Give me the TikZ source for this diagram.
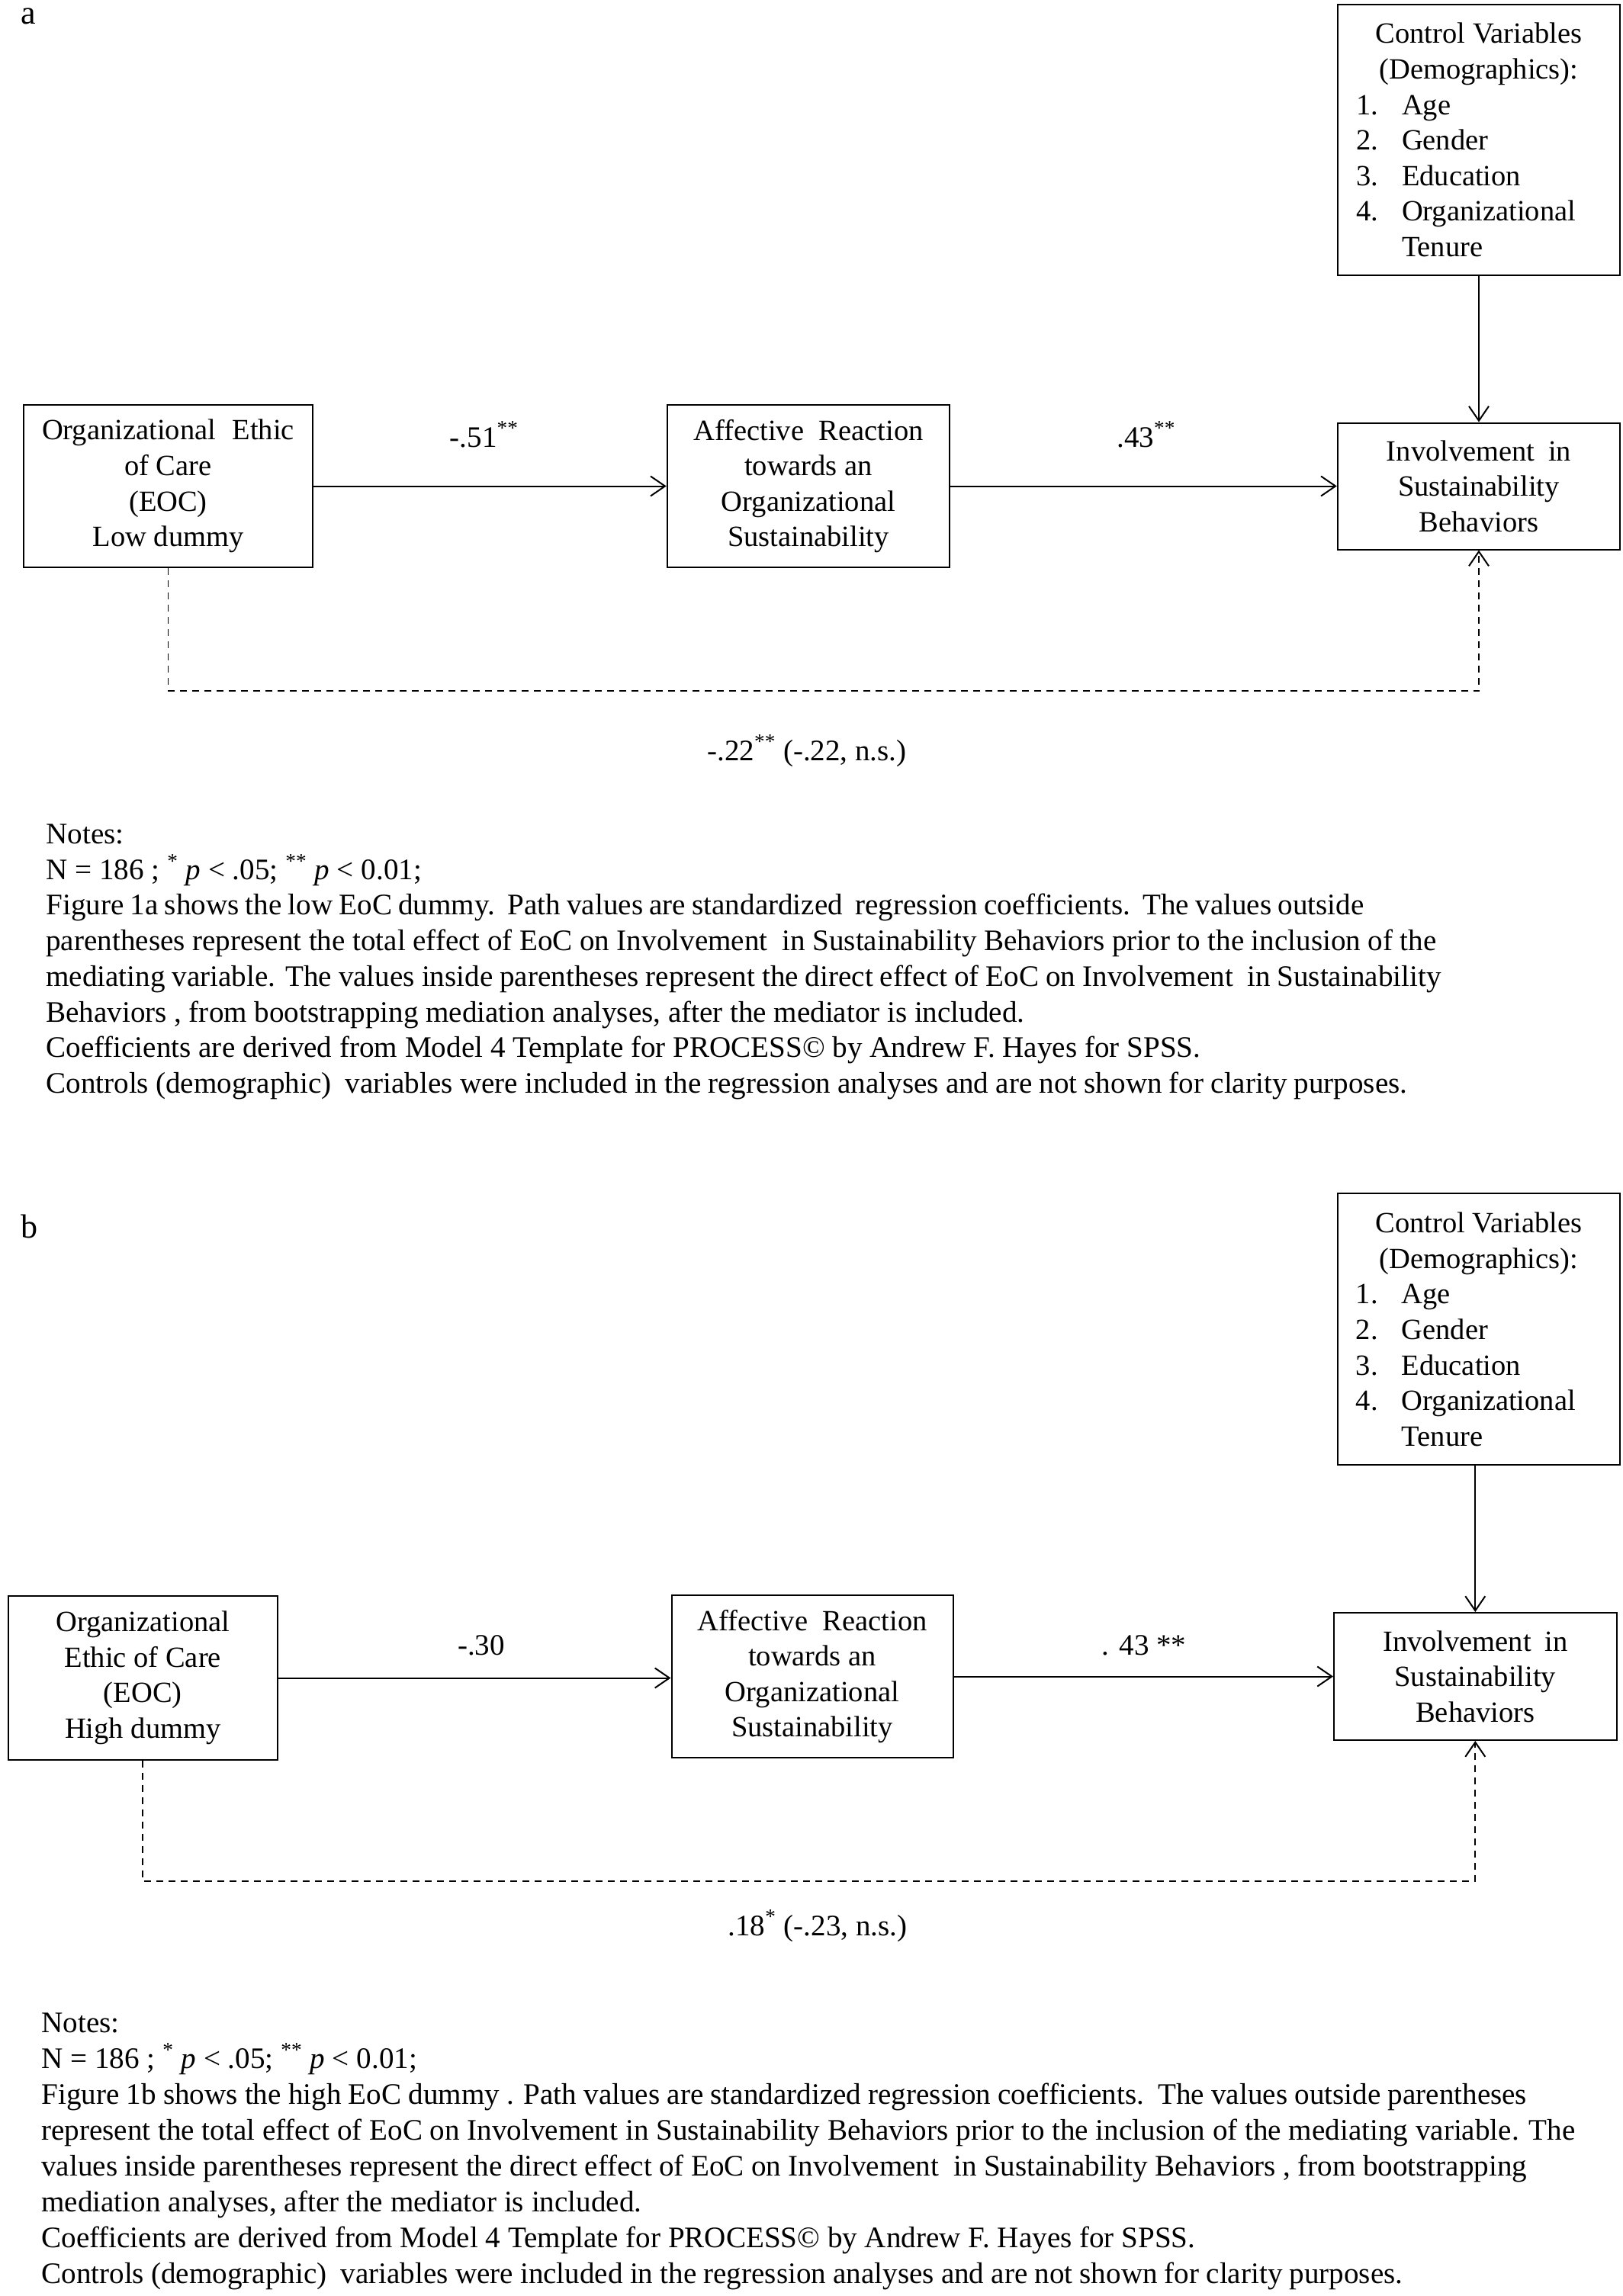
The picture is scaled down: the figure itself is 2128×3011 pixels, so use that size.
\documentclass[tikz,border=0pt]{standalone}
\usepackage{fontspec}
\setmainfont{Liberation Serif}
\usetikzlibrary{arrows.meta}
\newcommand{\fs}{\fontsize{19.25}{23.3}\selectfont}
\newcommand{\fn}{\fontsize{19.55}{23.4}\selectfont}
\newcommand{\itm}[2]{\makebox[161pt][l]{\makebox[30pt][l]{#1}#2}}
\newcommand{\nl}[2]{\spaceskip=.25em plus .4em minus .12em\hbox to #1{#2}}
\begin{document}
\begin{tikzpicture}[x=0.5pt,y=-0.5pt,
  box/.style={draw, line width=1pt, inner sep=0pt, align=center, font=\fs},
  tip/.style={-{Straight Barb[length=9.5pt,width=13pt,line width=1pt]}},
  arr/.style={line width=1pt, tip},
  darr/.style={line width=0.9pt, dash pattern=on 4.5pt off 3.5pt, tip},
  lbl/.style={inner sep=0pt, anchor=base, font=\fontsize{19.5}{23.3}\selectfont},
  note/.style={inner sep=0pt, anchor=base west, font=\fn},
  panel/.style={inner sep=0pt, anchor=base west, font=\fontsize{22}{26}\selectfont}]
\useasboundingbox (0,0) rectangle (2128,3011);

% ---------------- Panel a ----------------
\node[panel] (pa) at (27,31) {a};
\node[box, minimum width=185.2pt, minimum height=177.5pt] (ctrlA) at (1939,183.5)
 {Control Variables\\(Demographics):\\\itm{1.}{Age}\\\itm{2.}{Gender}\\\itm{3.}{Education}\\\itm{4.}{Organizational}\\\itm{}{Tenure}};
\node[box, minimum width=189.5pt, minimum height=106.5pt] (eocA) at (220.5,637.5)
 {Organizational\hspace{6pt} Ethic\\of Care\\(EOC)\\Low dummy};
\node[box, minimum width=185.25pt, minimum height=106.5pt] (affA) at (1060,637.5)
 {Affective\hspace{5pt} Reaction\\towards an\\Organizational\\Sustainability};
\node[box, minimum width=185.2pt, minimum height=83pt] (invA) at (1939,637.5)
 {Involvement\hspace{4pt} in\\Sustainability\\Behaviors};
\draw[arr] (eocA) -- (affA);
\draw[arr] (affA) -- (invA);
\draw[arr] (ctrlA.south) -- (invA.north);
\coordinate (dA) at (0,906);
\draw[darr] (eocA.south) -- (eocA.south |- dA) -| (invA.south);
\node[lbl] (l1a) at (635,586) {-.51\textsuperscript{**}};
\node[lbl] (l2a) at (1503,586) {.43\textsuperscript{**}};
\node[lbl] (l3a) at (1058,997) {-.22\textsuperscript{**} (-.22, n.s.)};

\node[note] (na1) at (60,1106.5) {Notes:};
\node[note] (na2) at (60,1153.2) {N = 186 ; \textsuperscript{*} \textit{p} < .05; \textsuperscript{**} \textit{p} < 0.01;};
\node[note] (na3) at (60,1199.9) {\nl{864pt}{Figure 1a shows the low EoC dummy.\ \ Path values are standardized\ \ regression coefficients.\ \ The values outside}};
\node[note] (na4) at (60,1246.6) {\nl{911.5pt}{parentheses represent the total effect of EoC on Involvement\ \ in Sustainability Behaviors prior to the inclusion of the}};
\node[note] (na5) at (60,1293.3) {\nl{914.5pt}{mediating variable. The values inside parentheses represent the direct effect of EoC on Involvement\ \ in Sustainability}};
\node[note] (na6) at (60,1340) {\nl{641.5pt}{Behaviors , from bootstrapping mediation analyses, after the mediator is included.}};
\node[note] (na7) at (60,1386.7) {\nl{757pt}{Coefficients are derived from Model 4 Template for PROCESS© by Andrew F. Hayes for SPSS.}};
\node[note] (na8) at (60,1433.4) {\nl{892.5pt}{Controls (demographic)\ \ variables were included in the regression analyses and are not shown for clarity purposes.}};

% ---------------- Panel b ----------------
\node[panel] (pb) at (27,1623) {b};
\node[box, minimum width=185.2pt, minimum height=178pt] (ctrlB) at (1938.8,1743.4)
 {Control Variables\\(Demographics):\\\itm{1.}{Age}\\\itm{2.}{Gender}\\\itm{3.}{Education}\\\itm{4.}{Organizational}\\\itm{}{Tenure}};
\node[box, minimum width=176.25pt, minimum height=107.3pt] (eocB) at (187.3,2200.3)
 {Organizational\\Ethic of Care\\(EOC)\\High dummy};
\node[box, minimum width=184.5pt, minimum height=106.5pt] (affB) at (1065,2198.5)
 {Affective\hspace{5pt} Reaction\\towards an\\Organizational\\Sustainability};
\node[box, minimum width=185.25pt, minimum height=83.5pt] (invB) at (1934.3,2198.5)
 {Involvement\hspace{4pt} in\\Sustainability\\Behaviors};
\draw[arr] (eocB.east |- 0,2200.5) -- (affB.west |- 0,2200.5);
\draw[arr] (affB) -- (invB);
\draw[arr] (ctrlB.south -| invB.north) -- (invB.north);
\coordinate (dB) at (0,2467);
\draw[darr] (eocB.south) -- (eocB.south |- dB) -| (invB.south);
\node[lbl] (l1b) at (631,2170) {-.30};
\node[lbl] (l2b) at (1500,2170) {. 43 **};
\node[lbl] (l3b) at (1072,2538) {.18\textsuperscript{*} (-.23, n.s.)};

\node[note] (nb1) at (54,2665.7) {Notes:};
\node[note] (nb2) at (54,2712.6) {N = 186 ; \textsuperscript{*} \textit{p} < .05; \textsuperscript{**} \textit{p} < 0.01;};
\node[note] (nb3) at (54,2759.5) {\nl{973.8pt}{Figure 1b shows the high EoC dummy . Path values are standardized regression coefficients.\ \ The values outside parentheses}};
\node[note] (nb4) at (54,2806.4) {\nl{1005.5pt}{represent the total effect of EoC on Involvement in Sustainability Behaviors prior to the inclusion of the mediating variable. The}};
\node[note] (nb5) at (54,2853.3) {\nl{973.8pt}{values inside parentheses represent the direct effect of EoC on Involvement\ \ in Sustainability Behaviors , from bootstrapping}};
\node[note] (nb6) at (54,2900.2) {\nl{393.5pt}{mediation analyses, after the mediator is included.}};
\node[note] (nb7) at (54,2947.1) {\nl{756.5pt}{Coefficients are derived from Model 4 Template for PROCESS© by Andrew F. Hayes for SPSS.}};
\node[note] (nb8) at (54,2994) {\nl{892.5pt}{Controls (demographic)\ \ variables were included in the regression analyses and are not shown for clarity purposes.}};
\end{tikzpicture}
\end{document}
